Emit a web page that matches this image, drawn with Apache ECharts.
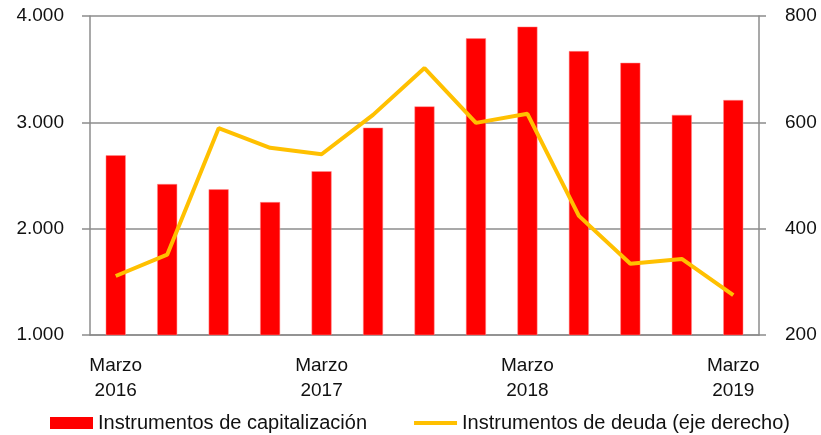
<!DOCTYPE html>
<html>
<head>
<meta charset="utf-8">
<script src="https://cdn.jsdelivr.net/npm/echarts@6/dist/echarts.min.js"></script>
<style>
  html, body { margin: 0; padding: 0; background: #fff; }
  #chart { width: 821px; height: 435px; }
</style>
</head>
<body>
<div id="chart"></div>
<script>
// trimestres, marzo 2016 - marzo 2019
const categories = [
  'Marzo\n2016', 'Junio\n2016', 'Septiembre\n2016', 'Diciembre\n2016',
  'Marzo\n2017', 'Junio\n2017', 'Septiembre\n2017', 'Diciembre\n2017',
  'Marzo\n2018', 'Junio\n2018', 'Septiembre\n2018', 'Diciembre\n2018',
  'Marzo\n2019'
]
// eje izquierdo
const capitalizacion = [2690, 2420, 2370, 2250, 2540, 2950, 3150, 3790, 3900, 3670, 3560, 3070, 3210]
// eje derecho
const deuda = [311, 351, 589, 552, 540, 614, 702, 599, 616, 424, 334, 343, 275]

const leftTicks = [1000, 4000, 1000]   // min, max, intervalo
const rightTicks = [200, 800, 200]

const txtFont = 'Liberation Sans'
const grey = '#8c8c8c'

let myEcharts = echarts.init(document.getElementById('chart'))
const options = {
  animation: false,
  textStyle: { fontFamily: txtFont },
  grid: { left: 90, right: 62, top: 16, bottom: 100 },
  legend: {
    left: 45,
    top: 408,
    itemGap: 45,
    itemWidth: 43,
    itemHeight: 12,
    textStyle: { fontSize: 20, color: '#111', fontFamily: txtFont },
    data: [
      {
        name: 'Instrumentos de capitalización',
        icon: 'rect',
        itemStyle: { color: '#ff0000', borderWidth: 0 }
      },
      {
        name: 'Instrumentos de deuda (eje derecho)',
        itemStyle: { opacity: 0 },
        lineStyle: { width: 4, color: '#ffc000' }
      }
    ]
  },
  xAxis: {
    type: 'category',
    data: categories,
    boundaryGap: true,
    axisLine: { lineStyle: { color: grey, width: 1.5 } },
    axisTick: { interval: 3, length: 7, lineStyle: { color: grey, width: 1.5 } },
    axisLabel: {
      interval: 3,
      margin: 18,
      fontSize: 19,
      lineHeight: 25,
      color: '#111'
    }
  },
  yAxis: [{
      type: 'value',
      min: leftTicks[0],
      max: leftTicks[1],
      interval: leftTicks[2],
      axisLine: { show: true, lineStyle: { color: grey, width: 1.5 } },
      axisTick: { show: true, length: 8, lineStyle: { color: grey, width: 1.5 } },
      splitLine: { lineStyle: { color: grey, width: 1.5 } },
      axisLabel: {
        margin: 26,
        fontSize: 19,
        color: '#111',
        formatter: v => v.toLocaleString('de-DE')
      }
    },
    {
      type: 'value',
      min: rightTicks[0],
      max: rightTicks[1],
      interval: rightTicks[2],
      axisLine: { show: true, lineStyle: { color: grey, width: 1.5 } },
      axisTick: { show: true, length: 7, lineStyle: { color: grey, width: 1.5 } },
      splitLine: { show: false },
      axisLabel: { margin: 26, fontSize: 19, color: '#111' }
    }
  ],
  series: [{
      name: 'Instrumentos de capitalización',
      type: 'bar',
      data: capitalizacion,
      barWidth: 20,
      itemStyle: { color: '#ff0000', borderColor: '#ff9090', borderWidth: 0.5 }
    },
    {
      name: 'Instrumentos de deuda (eje derecho)',
      type: 'line',
      yAxisIndex: 1,
      data: deuda,
      symbol: 'none',
      lineStyle: { color: '#ffc000', width: 4 },
      itemStyle: { color: '#ffc000' }
    }
  ]
}
options && myEcharts.setOption(options)
</script>
</body>
</html>
